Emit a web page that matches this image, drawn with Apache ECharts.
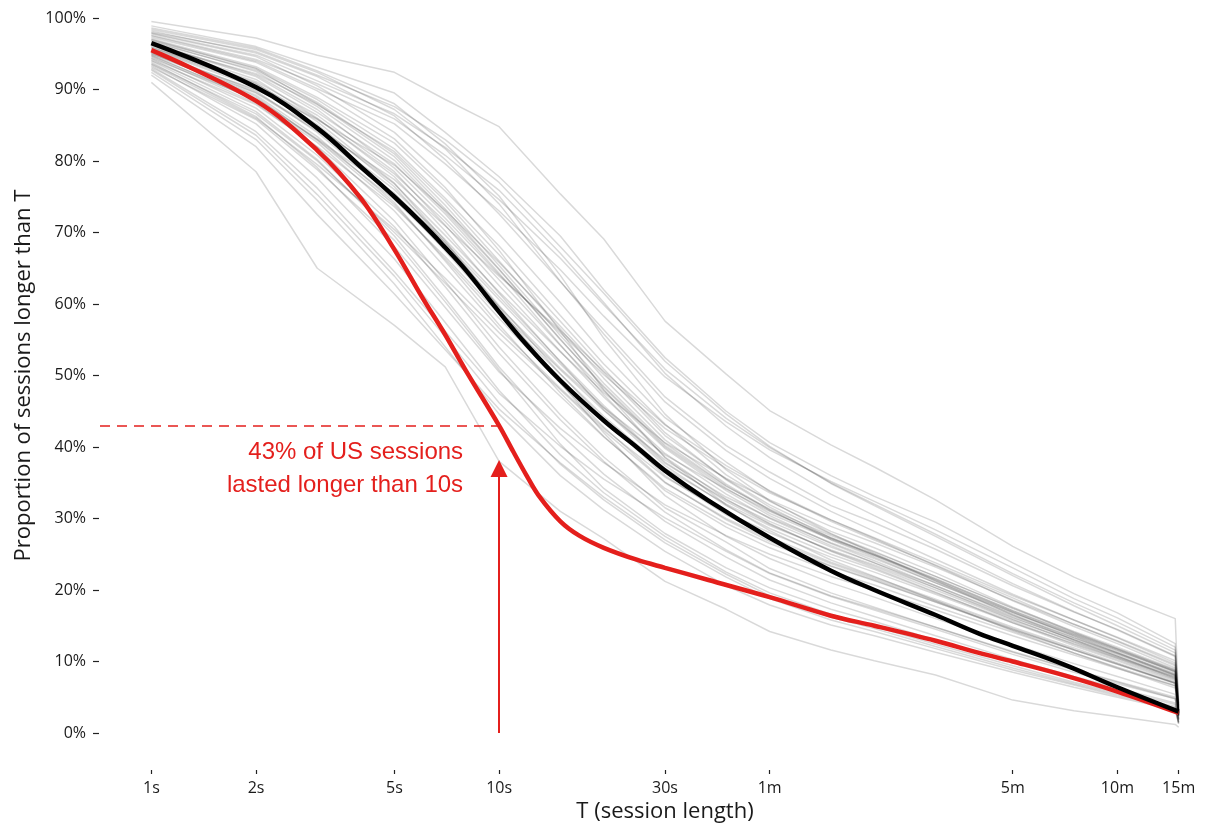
<!DOCTYPE html>
<html>
<head>
<meta charset="utf-8">
<title>Session length survival</title>
<script src="https://cdn.jsdelivr.net/npm/echarts@6/dist/echarts.min.js"></script>
<style>
  html, body { margin: 0; padding: 0; background: #ffffff; }
  #chart { width: 1206px; height: 833px; }
</style>
</head>
<body>
<div id="chart"></div>
<script>
// Share of sessions that were still running after T seconds (percent).

// One thin grey curve per country, sampled at these session lengths (seconds).
const countrySeconds = [1, 2, 3, 5, 7, 10, 15, 20, 30, 45, 60, 90, 120, 180, 300, 450, 600, 880, 900];
const countryShares = [
  [99.5, 97.2, 94.8, 92.4, 88.6, 84.8, 75.4, 69.1, 57.6, 50.2, 45.1, 40.3, 37.2, 32.6, 26.1, 21.8, 19.2, 16.0, 4.2],
  [98.9, 96.0, 93.1, 89.5, 84.0, 77.8, 69.5, 62.0, 52.5, 45.0, 40.6, 36.0, 33.1, 29.5, 23.8, 19.5, 16.8, 12.5, 3.8],
  [98.2, 95.1, 91.8, 86.3, 80.2, 72.6, 63.1, 56.4, 47.0, 40.2, 36.5, 31.8, 29.4, 25.7, 20.6, 16.9, 14.5, 10.8, 3.4],
  [97.8, 94.6, 90.5, 84.0, 77.5, 69.8, 60.2, 53.0, 44.1, 37.9, 33.8, 29.6, 27.0, 23.5, 18.9, 15.2, 12.9, 9.6, 3.1],
  [97.1, 93.2, 88.9, 82.5, 75.8, 68.1, 58.4, 51.6, 43.2, 36.1, 32.4, 28.2, 25.9, 22.4, 17.6, 14.1, 11.8, 8.7, 2.9],
  [96.8, 92.5, 87.6, 80.1, 72.9, 64.8, 55.1, 48.3, 40.0, 34.2, 30.7, 27.1, 24.8, 21.2, 16.9, 13.5, 11.2, 8.1, 2.8],
  [96.2, 91.4, 86.0, 77.8, 70.2, 61.5, 51.9, 45.2, 37.4, 31.8, 28.6, 25.0, 22.9, 19.6, 15.6, 12.4, 10.3, 7.4, 2.6],
  [95.7, 90.6, 85.1, 76.4, 68.5, 59.8, 50.2, 43.9, 36.0, 30.5, 27.4, 23.9, 21.8, 18.7, 14.8, 11.9, 9.8, 7.0, 2.5],
  [95.1, 89.2, 83.4, 74.2, 66.0, 57.1, 47.6, 41.5, 33.9, 28.8, 25.9, 22.6, 20.7, 17.7, 14.1, 11.2, 9.2, 6.6, 2.4],
  [94.6, 88.1, 81.9, 71.6, 63.2, 54.0, 44.5, 38.6, 31.5, 26.7, 23.0, 19.6, 17.6, 14.8, 11.3, 8.8, 7.1, 4.8, 1.9],
  [94.0, 86.9, 80.2, 69.5, 60.8, 51.2, 41.8, 36.2, 29.6, 24.6, 21.4, 18.2, 16.3, 13.6, 10.3, 7.9, 6.3, 4.2, 1.6],
  [93.3, 85.2, 77.6, 66.3, 57.4, 47.9, 38.9, 33.6, 27.5, 22.5, 19.6, 16.6, 14.9, 12.4, 9.4, 7.1, 5.6, 3.7, 1.5],
  [92.4, 83.0, 74.5, 62.8, 54.0, 44.6, 36.0, 31.2, 25.4, 20.6, 17.9, 15.1, 13.6, 11.3, 8.5, 6.4, 5.0, 3.2, 1.3],
  [91.0, 78.5, 65.0, 57.0, 51.2, 38.0, 31.0, 27.2, 21.2, 17.3, 14.2, 11.6, 10.1, 8.1, 4.6, 3.1, 2.3, 1.2, 0.8],
  [98.6, 95.8, 92.6, 88.0, 82.4, 75.1, 64.0, 55.2, 44.6, 36.8, 32.5, 27.9, 25.1, 21.3, 16.5, 13.0, 10.7, 7.6, 2.7],
  [97.5, 94.0, 90.1, 85.2, 79.6, 73.0, 64.8, 58.3, 49.8, 43.5, 39.6, 35.2, 32.4, 28.4, 23.1, 18.8, 16.1, 12.0, 3.9],
  [96.5, 92.0, 87.2, 79.0, 72.0, 64.1, 56.0, 50.1, 42.6, 37.0, 33.6, 29.8, 27.3, 23.8, 19.2, 15.8, 13.4, 10.1, 3.3],
  [95.4, 89.8, 84.0, 75.0, 67.4, 59.0, 50.8, 45.1, 38.2, 33.0, 30.1, 26.6, 24.4, 21.0, 16.8, 13.7, 11.5, 8.6, 2.9],
  [94.8, 88.5, 82.6, 73.0, 65.1, 56.6, 48.2, 42.6, 35.8, 30.9, 28.0, 24.6, 22.5, 19.4, 15.4, 12.5, 10.5, 7.8, 2.7],
  [93.8, 86.2, 79.1, 68.0, 59.5, 50.5, 42.6, 37.8, 31.9, 27.6, 25.0, 21.9, 20.0, 17.2, 13.6, 10.9, 9.0, 6.6, 2.3],
  [92.9, 84.1, 76.2, 64.5, 56.2, 47.5, 40.1, 35.5, 30.1, 25.4, 22.3, 19.1, 17.2, 14.5, 11.0, 8.5, 6.9, 4.8, 1.8],
  [96.0, 90.9, 85.5, 76.9, 68.8, 59.5, 49.0, 42.0, 33.2, 27.5, 24.4, 21.0, 19.0, 16.0, 12.4, 9.7, 7.9, 5.4, 1.9],
  [97.3, 93.8, 89.8, 83.1, 76.3, 67.5, 56.2, 48.0, 38.5, 31.9, 28.3, 24.2, 21.9, 18.5, 14.3, 11.2, 9.1, 6.3, 2.1],
  [95.9, 91.1, 86.4, 78.5, 71.0, 62.6, 53.4, 47.0, 39.1, 33.4, 30.0, 26.2, 23.8, 20.3, 15.9, 12.7, 10.5, 7.5, 2.6],
  [94.3, 87.4, 80.8, 70.8, 62.4, 53.1, 43.8, 38.0, 30.9, 25.6, 22.4, 19.2, 17.4, 14.8, 11.4, 8.9, 7.2, 5.0, 1.9],
  [93.6, 86.6, 80.0, 70.0, 62.9, 55.2, 47.1, 41.4, 34.2, 29.3, 26.5, 23.3, 21.3, 18.3, 14.4, 11.6, 9.6, 7.0, 2.5],
  [96.9, 93.0, 88.6, 81.7, 74.8, 66.9, 57.6, 50.9, 42.0, 35.4, 31.6, 27.3, 24.9, 21.4, 16.9, 13.6, 11.3, 8.2, 2.8],
  [98.0, 95.3, 92.0, 87.6, 83.0, 77.0, 68.0, 61.5, 52.0, 44.6, 40.1, 34.9, 31.8, 27.5, 22.0, 17.8, 15.0, 11.2, 3.6],
  [95.0, 90.0, 85.8, 79.4, 73.1, 65.8, 56.9, 50.4, 41.6, 35.5, 31.9, 27.8, 25.4, 21.9, 17.4, 14.0, 11.8, 8.8, 3.0],
  [94.9, 89.5, 84.2, 76.0, 69.0, 61.0, 52.0, 45.8, 37.9, 32.4, 29.2, 25.5, 23.3, 20.0, 15.8, 12.8, 10.7, 7.9, 2.7],
  [93.1, 85.8, 78.8, 68.9, 60.3, 50.8, 40.4, 34.2, 27.9, 23.1, 20.3, 17.3, 15.6, 13.0, 9.9, 7.6, 6.0, 4.0, 1.5],
  [92.0, 82.0, 72.5, 61.4, 53.6, 45.3, 37.8, 33.0, 27.0, 22.2, 19.2, 16.2, 14.6, 12.1, 9.1, 6.9, 5.4, 3.5, 1.4],
  [97.6, 94.2, 90.8, 85.9, 80.8, 74.6, 66.4, 59.9, 50.9, 44.0, 39.9, 35.0, 32.0, 27.8, 22.3, 18.2, 15.5, 11.6, 3.7],
  [96.3, 92.2, 87.9, 81.3, 74.4, 66.0, 56.5, 49.6, 41.0, 34.8, 31.2, 27.0, 24.6, 21.0, 16.6, 13.3, 11.1, 8.0, 2.8],
  [95.6, 90.3, 84.8, 76.8, 69.6, 61.7, 53.3, 47.6, 40.6, 35.6, 32.6, 28.9, 26.6, 23.2, 18.6, 15.2, 12.8, 9.4, 3.2],
  [94.1, 87.9, 82.0, 73.6, 66.6, 58.6, 50.2, 44.3, 37.0, 32.0, 29.0, 25.6, 23.5, 20.3, 16.1, 13.1, 11.0, 8.1, 2.8],
  [98.4, 95.6, 92.4, 87.2, 81.7, 74.0, 63.2, 55.8, 46.3, 39.5, 35.6, 31.0, 28.2, 24.3, 19.4, 15.8, 13.3, 9.8, 3.2],
  [92.7, 83.6, 75.3, 63.9, 55.4, 46.2, 37.6, 32.6, 26.6, 21.8, 18.8, 15.8, 14.2, 11.8, 8.8, 6.7, 5.2, 3.4, 1.3],
  [95.3, 89.0, 82.9, 73.9, 66.3, 58.0, 48.9, 42.8, 35.1, 29.8, 26.8, 23.4, 21.4, 18.3, 14.5, 11.6, 9.6, 6.9, 2.4],
  [96.6, 92.7, 88.2, 81.0, 73.8, 65.4, 55.6, 48.9, 40.5, 34.6, 31.1, 27.2, 24.9, 21.5, 17.1, 13.9, 11.7, 8.6, 2.9],
  [97.0, 92.9, 88.0, 80.6, 73.3, 64.9, 55.0, 48.5, 40.2, 34.5, 31.3, 27.6, 25.3, 21.9, 17.5, 14.2, 12.0, 8.9, 3.0],
  [95.8, 90.8, 85.9, 78.2, 71.5, 63.4, 54.2, 47.9, 39.8, 33.9, 30.4, 26.5, 24.1, 20.6, 16.2, 13.0, 10.8, 7.7, 2.6],
  [94.4, 88.6, 83.0, 74.6, 67.7, 59.6, 51.0, 45.5, 38.9, 34.1, 31.0, 27.3, 25.0, 21.6, 17.1, 13.8, 11.6, 8.5, 2.9],
  [96.4, 91.8, 86.8, 79.6, 72.6, 64.3, 54.3, 47.3, 38.6, 32.7, 29.3, 25.4, 23.1, 19.7, 15.4, 12.2, 10.1, 7.2, 2.5],
  [93.5, 86.0, 79.5, 70.4, 63.6, 56.0, 48.0, 42.3, 35.0, 30.0, 27.1, 23.7, 21.6, 18.5, 14.6, 11.7, 9.7, 7.0, 2.4],
  [97.9, 94.8, 91.2, 86.6, 81.9, 75.9, 67.1, 60.2, 50.3, 42.9, 38.5, 33.4, 30.4, 26.2, 20.9, 17.0, 14.4, 10.7, 3.5],
  [95.2, 89.6, 84.5, 77.4, 70.9, 63.9, 56.3, 50.6, 43.1, 37.4, 33.9, 29.8, 27.2, 23.4, 18.5, 14.9, 12.5, 9.1, 3.0],
  [94.7, 88.8, 83.1, 75.5, 68.6, 60.6, 51.6, 45.5, 37.7, 32.6, 29.6, 26.0, 23.8, 20.6, 16.4, 13.3, 11.2, 8.3, 2.8]
];

// Smoothed curves: United States (red) and all sessions (black).
const usSeconds = [1, 2, 3, 4, 5, 6, 7, 8, 10, 11, 12, 13, 15, 17, 20, 25, 30, 40, 60, 90, 120, 180, 240, 300, 420, 600, 900];
const usShare   = [95.5, 88.4, 81.5, 74.8, 67.6, 61.0, 55.7, 50.8, 43.0, 39.3, 36.0, 33.2, 29.6, 27.6, 25.9, 24.2, 23.1, 21.4, 19.0, 16.4, 15.0, 12.9, 11.2, 10.0, 8.1, 5.8, 2.8];
const allSeconds = [1, 2, 3, 4, 5, 6, 7, 8, 10, 12, 15, 20, 25, 30, 40, 60, 90, 120, 180, 240, 300, 420, 600, 900];
const allShare   = [96.5, 90.3, 84.6, 79.2, 75.0, 71.3, 67.9, 64.8, 58.9, 54.3, 49.3, 43.7, 39.9, 36.7, 32.5, 27.3, 22.7, 20.0, 16.5, 13.9, 12.2, 9.6, 6.4, 3.0];

// Axis ticks.
const tickSeconds = [1, 2, 5, 10, 30, 60, 300, 600, 900];
const tickLabels  = ['1s', '2s', '5s', '10s', '30s', '1m', '5m', '10m', '15m'];

// Call-out for the US value at 10 seconds.
const calloutSecond = 10;
const calloutShare = 43;
const arrowTipShare = 37;
const calloutText = ['43% of US sessions', 'lasted longer than 10s'];

const RED = '#e41f1c';
const AXIS_FONT = '"Open Sans", Lato, sans-serif';

// The x axis is drawn on log10(seconds) with a 5% margin either side.
const lx = s => Math.log10(s);
const xLo = lx(countrySeconds[0]);
const xHi = lx(countrySeconds[countrySeconds.length - 1]);
const xPad = 0.05 * (xHi - xLo);

function labelFor(v) {
  for (let i = 0; i < tickSeconds.length; i++) {
    if (Math.abs(lx(tickSeconds[i]) - v) < 1e-6) return tickLabels[i];
  }
  return '';
}

const countrySeries = countryShares.map((row, i) => ({
  name: 'country' + i,
  type: 'line',
  data: row.map((v, j) => [lx(countrySeconds[j]), v]),
  symbol: 'none',
  silent: true,
  z: 1,
  lineStyle: { color: 'rgba(0,0,0,0.15)', width: 1.5 }
}));

const usSeries = {
  name: 'United States',
  type: 'line',
  data: usShare.map((v, j) => [lx(usSeconds[j]), v]),
  symbol: 'none',
  smooth: 0.35,
  silent: true,
  z: 3,
  lineStyle: { color: RED, width: 4.5 },
  markLine: {
    silent: true,
    animation: false,
    label: { show: false },
    data: [
      [
        { coord: [xLo - xPad, calloutShare], symbol: 'none',
          lineStyle: { color: RED, width: 1.6, type: [10, 7] } },
        { coord: [lx(calloutSecond), calloutShare], symbol: 'none' }
      ],
      [
        { coord: [lx(calloutSecond), 0], symbol: 'none',
          lineStyle: { color: RED, width: 2, type: 'solid' } },
        { coord: [lx(calloutSecond), arrowTipShare], symbol: 'triangle', symbolSize: 17 }
      ]
    ]
  },
  markPoint: {
    silent: true,
    animation: false,
    symbol: 'circle',
    symbolSize: 0,
    data: [{ coord: [lx(calloutSecond), calloutShare] }],
    label: {
      show: true,
      position: 'inside',
      formatter: calloutText.join('\n'),
      align: 'right',
      verticalAlign: 'top',
      offset: [-36, 10],
      color: RED,
      fontFamily: '"Liberation Sans", Arial, sans-serif',
      fontSize: 24,
      lineHeight: 33
    }
  }
};

const allSeries = {
  name: 'All sessions',
  type: 'line',
  data: allShare.map((v, j) => [lx(allSeconds[j]), v]),
  symbol: 'none',
  smooth: 0.4,
  silent: true,
  z: 4,
  lineStyle: { color: '#000000', width: 4.5 }
};

const chart = echarts.init(document.getElementById('chart'), null, { renderer: 'canvas' });
chart.setOption({
  animation: false,
  backgroundColor: '#ffffff',
  grid: { left: 100, top: 18, bottom: 100, width: 1130, outerBoundsMode: 'none', containLabel: false },
  xAxis: {
    type: 'value',
    min: xLo - xPad,
    max: xHi + xPad,
    offset: 37,
    splitLine: { show: false },
    axisLine: { show: false, onZero: false },
    axisTick: {
      show: true, length: 4, inside: false,
      customValues: tickSeconds.map(lx),
      lineStyle: { color: '#222', width: 1.2 }
    },
    axisLabel: {
      customValues: tickSeconds.map(lx),
      formatter: labelFor,
      margin: 10,
      color: '#1a1a1a',
      fontFamily: AXIS_FONT,
      fontSize: 16
    },
    name: 'T (session length)',
    nameLocation: 'middle',
    nameGap: 31,
    nameTextStyle: { color: '#1a1a1a', fontFamily: AXIS_FONT, fontSize: 22 }
  },
  yAxis: {
    type: 'value',
    min: 0,
    max: 100,
    interval: 10,
    offset: 1,
    splitLine: { show: false },
    axisLine: { show: false, onZero: false },
    axisTick: { show: true, length: 6, lineStyle: { color: '#222', width: 1.2 } },
    axisLabel: {
      formatter: '{value}%',
      margin: 13,
      color: '#1a1a1a',
      fontFamily: AXIS_FONT,
      fontSize: 16
    },
    name: 'Proportion of sessions longer than T',
    nameLocation: 'middle',
    nameGap: 60,
    nameTextStyle: { color: '#1a1a1a', fontFamily: AXIS_FONT, fontSize: 22 }
  },
  series: countrySeries.concat([usSeries, allSeries])
});
</script>
</body>
</html>
